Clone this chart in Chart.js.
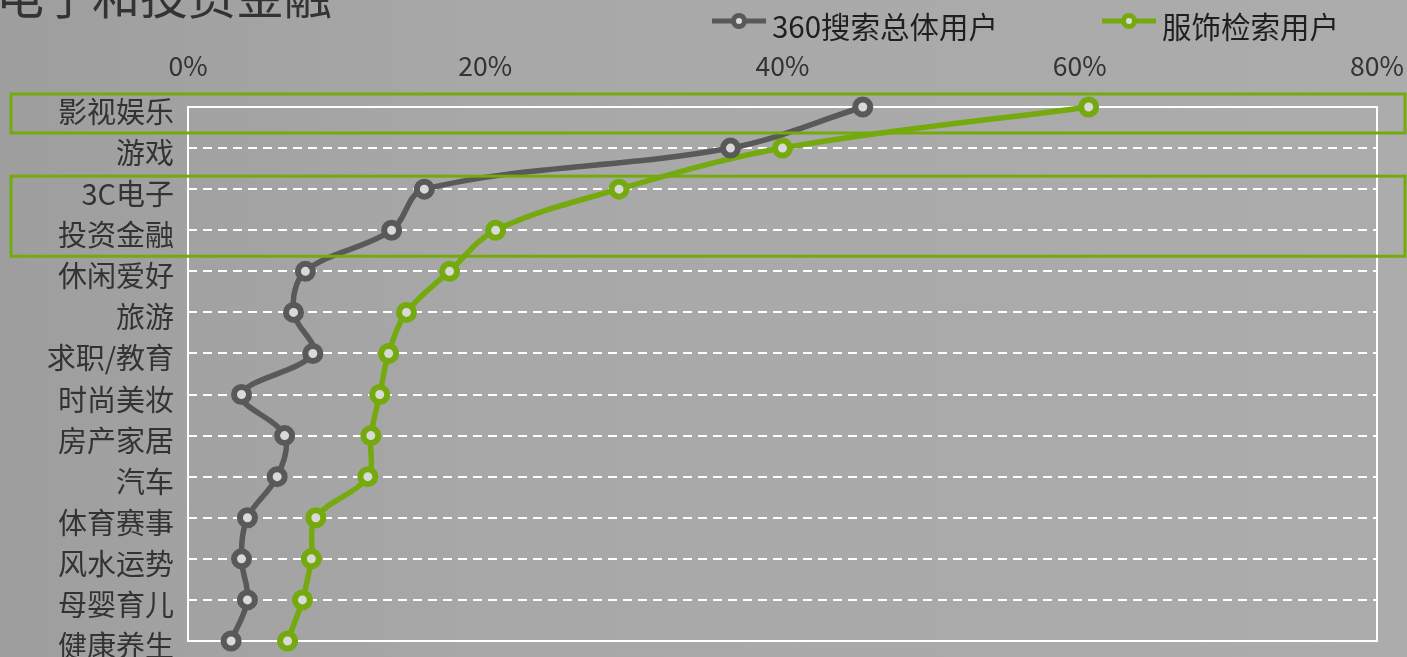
<!DOCTYPE html>
<html>
<head>
  <meta charset="utf-8">
  <title>3C电子和投资金融</title>
  <script src="https://cdn.jsdelivr.net/npm/chart.js"></script>
  <style>
    html, body {
      margin: 0;
      width: 1407px;
      height: 657px;
      overflow: hidden;
      background: linear-gradient(90deg, #9e9e9e 0%, #a8a8a8 35%, #acacac 100%);
    }
    canvas { display: block; }
  </style>
</head>
<body>
  <canvas id="chart" width="1407" height="657"></canvas>
  <script>
    const categories = ["影视娱乐", "游戏", "3C电子", "投资金融", "休闲爱好", "旅游", "求职/教育",
                        "时尚美妆", "房产家居", "汽车", "体育赛事", "风水运势", "母婴育儿", "健康养生"];
    const allUsers = [45.4, 36.5, 15.9, 13.7, 7.9, 7.1, 8.4, 3.6, 6.5, 6.0, 4.0, 3.6, 4.0, 2.9];
    const apparelUsers = [60.6, 40.0, 29.0, 20.7, 17.6, 14.7, 13.5, 12.9, 12.3, 12.1, 8.6, 8.3, 7.7, 6.7];
    const seriesNames = ["360搜索总体用户", "服饰检索用户"];
    const xTicks = [0, 20, 40, 60, 80];
    const highlightRows = [[0, 0], [2, 3]];
    const title = "3C电子和投资金融";

    const GRAY = '#595959';
    const GREEN = '#74aa0e';
    const FONT = '"Noto Sans CJK SC", "Noto Sans", sans-serif';
    const LABEL_SHIFT = 5;

    // frame, title, legend and the green highlight boxes
    const decor = {
      id: 'decor',
      beforeDatasetsDraw(chart) {
        const { ctx, chartArea } = chart;
        ctx.save();
        ctx.strokeStyle = '#ffffff';
        ctx.lineWidth = 2;
        ctx.strokeRect(chartArea.left, chartArea.top, chartArea.right - chartArea.left, chartArea.bottom - chartArea.top);
        ctx.restore();
      },
      afterDraw(chart) {
        const { ctx, scales } = chart;
        const y = scales.y;
        ctx.save();
        ctx.strokeStyle = GREEN;
        ctx.lineWidth = 3;
        highlightRows.forEach(([a, b]) => {
          const top = y.getPixelForValue(a) - 13;
          const bot = y.getPixelForValue(b) + 26;
          ctx.strokeRect(11, top, chart.width - 13, bot - top);
        });

        // title (cut off at the top left, as in the slide)
        ctx.fillStyle = '#333333';
        ctx.font = '48px ' + FONT;
        ctx.textAlign = 'right';
        ctx.textBaseline = 'alphabetic';
        ctx.fillText(title, 332, 14);

        // legend
        const items = [[712, GRAY, seriesNames[0]], [1102, GREEN, seriesNames[1]]];
        items.forEach(([x, c, name]) => {
          const ly = 21;
          ctx.strokeStyle = c;
          ctx.lineWidth = 5;
          ctx.beginPath();
          ctx.moveTo(x, ly);
          ctx.lineTo(x + 54, ly);
          ctx.stroke();
          ctx.beginPath();
          ctx.arc(x + 27, ly, 5.5, 0, Math.PI * 2);
          ctx.fillStyle = '#d9d9d9';
          ctx.fill();
          ctx.lineWidth = 5;
          ctx.stroke();
          ctx.fillStyle = '#1f1f1f';
          ctx.font = '29.5px ' + FONT;
          ctx.textAlign = 'left';
          ctx.textBaseline = 'middle';
          ctx.fillText(name, x + 60, ly + 6);
        });
        ctx.restore();
      }
    };

    const ctx = document.getElementById('chart').getContext('2d');
    new Chart(ctx, {
      type: 'line',
      data: {
        labels: categories,
        datasets: [
          { label: seriesNames[0], data: allUsers, borderColor: GRAY, pointBorderColor: GRAY },
          { label: seriesNames[1], data: apparelUsers, borderColor: GREEN, pointBorderColor: GREEN }
        ].map(d => Object.assign(d, {
          borderWidth: 5.5,
          tension: 0.35,
          pointRadius: 7.5,
          pointBorderWidth: 6,
          pointBackgroundColor: '#d9d9d9',
          fill: false,
          clip: false
        }))
      },
      options: {
        indexAxis: 'y',
        responsive: false,
        animation: false,
        layout: { padding: { left: 0, right: 30, top: 0, bottom: 16 } },
        plugins: {
          legend: { display: false },
          tooltip: { enabled: false }
        },
        scales: {
          x: {
            position: 'top',
            min: 0,
            max: 80,
            afterBuildTicks(scale) { scale.ticks = xTicks.map(v => ({ value: v })); },
            afterFit(scale) {
              scale.height = 107;
              scale.paddingLeft = 0;
              scale.paddingRight = 0;
            },
            ticks: {
              color: '#333333',
              font: { family: FONT, size: 26.5 },
              padding: 25,
              maxRotation: 0,
              callback: v => v + '%'
            },
            grid: { display: false, drawTicks: false },
            border: { display: false }
          },
          y: {
            type: 'category',
            offset: false,
            afterFit(scale) {
              scale.width = 188;
              scale.paddingTop = 0;
              scale.paddingBottom = 0;
            },
            ticks: {
              color: '#333333',
              font: { family: FONT, size: 29 },
              padding: 14,
              labelOffset: LABEL_SHIFT,
              autoSkip: false
            },
            grid: {
              color: '#ffffff',
              lineWidth: 2,
              drawTicks: false
            },
            border: { display: false, dash: [9, 6] }
          }
        }
      },
      plugins: [decor]
    });
  </script>
</body>
</html>
